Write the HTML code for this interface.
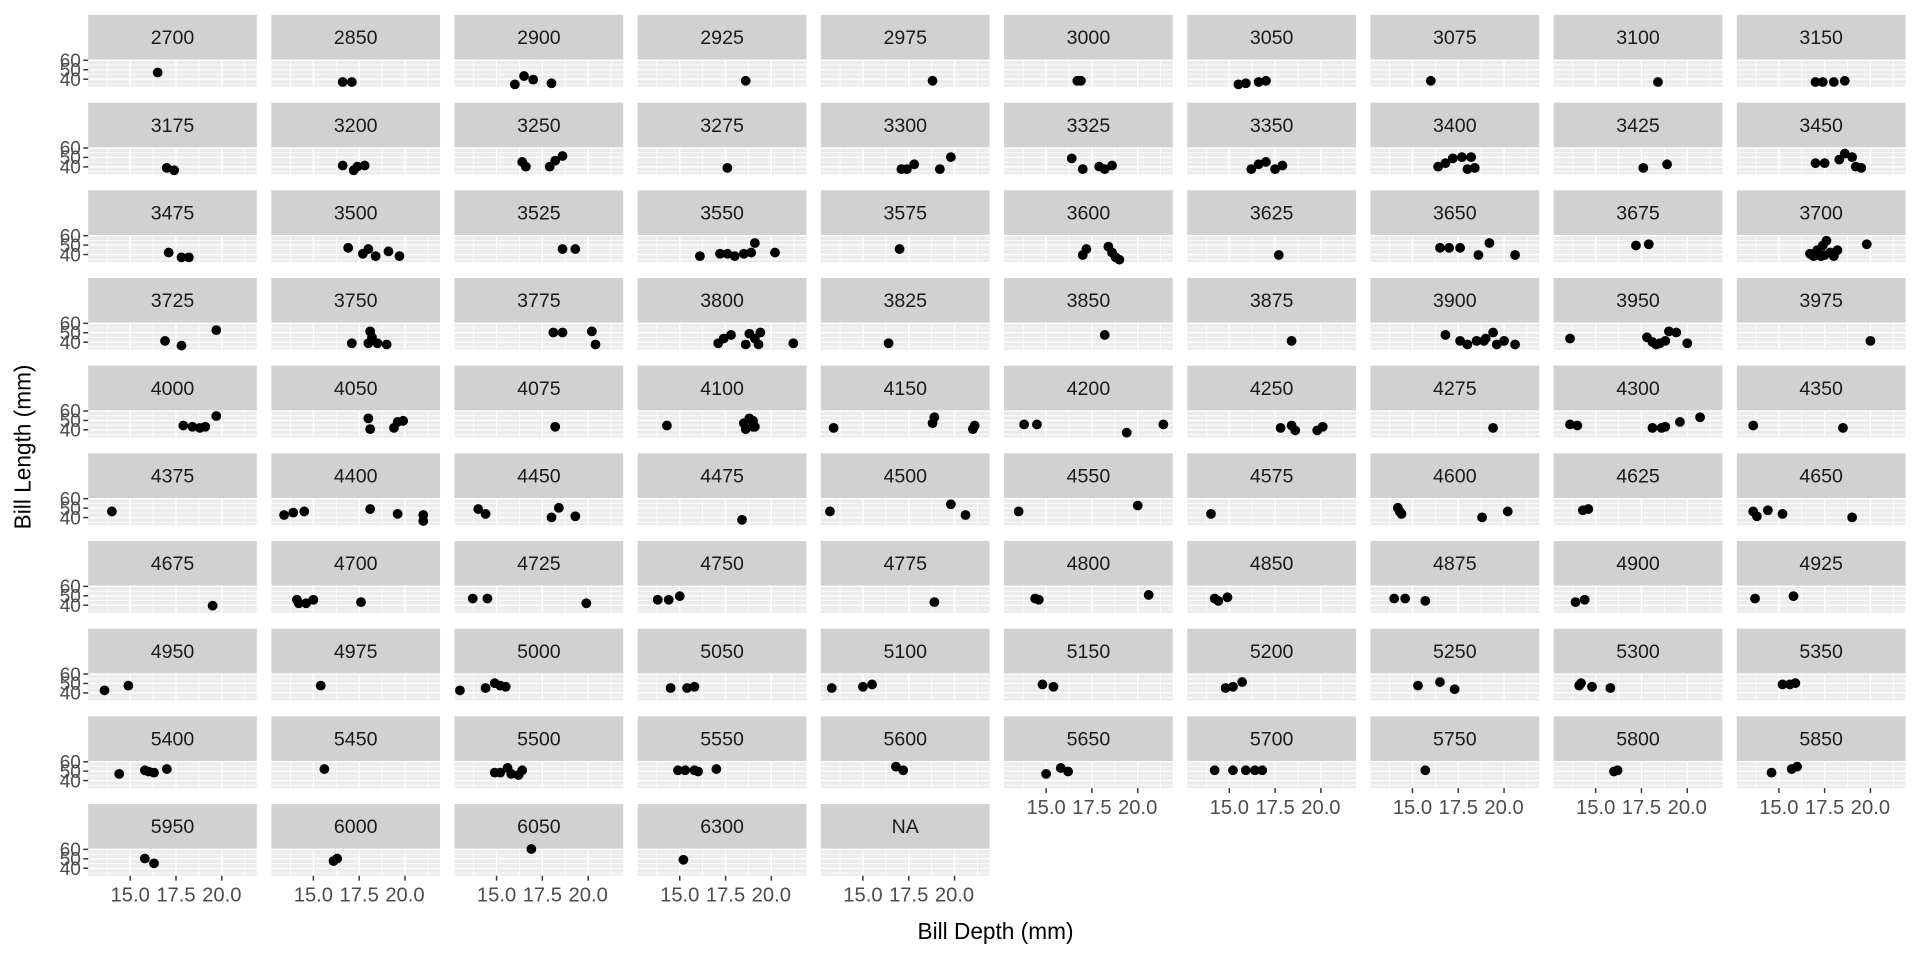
<!DOCTYPE html>
<html><head><meta charset="utf-8"><style>
html,body{margin:0;padding:0;background:#fff;}
svg{display:block;font-family:"Liberation Sans",Arial,sans-serif;}
</style></head><body>
<svg id="chart" width="1920" height="960" viewBox="0 0 1568 784" xmlns="http://www.w3.org/2000/svg">
<text x="0" y="0" transform="translate(25,365) rotate(-90)" text-anchor="middle" font-size="18.5" fill="#000">Bill Length (mm)</text>
<text x="813" y="767" text-anchor="middle" font-size="18.5" fill="#000">Bill Depth (mm)</text>
</svg>
<script>
const facetLabels = ["2700","2850","2900","2925","2975","3000","3050","3075","3100","3150","3175","3200","3250","3275","3300","3325","3350","3400","3425","3450","3475","3500","3525","3550","3575","3600","3625","3650","3675","3700","3725","3750","3775","3800","3825","3850","3875","3900","3950","3975","4000","4050","4075","4100","4150","4200","4250","4275","4300","4350","4375","4400","4450","4475","4500","4550","4575","4600","4625","4650","4675","4700","4725","4750","4775","4800","4850","4875","4900","4925","4950","4975","5000","5050","5100","5150","5200","5250","5300","5350","5400","5450","5500","5550","5600","5650","5700","5750","5800","5850","5950","6000","6050","6300","NA"];
const billDepth = [
[16.5],[16.6,17.1],[16.0,16.5,17.0,18.0],[18.6],[18.8],[16.7,16.9],[15.5,15.9,16.6,17.0],[16.0],[18.4],[17.0,17.4,18.0,18.6],
[17.0,17.4],[16.6,17.2,17.4,17.8],[16.4,16.6,17.9,18.2,18.6],[17.6],[17.1,17.4,17.8,19.2,19.8],[16.4,17.0,17.9,18.2,18.6],[16.2,16.6,17.0,17.5,17.9],[16.4,16.8,17.2,17.7,18.0,18.2,18.4],[17.6,18.9],[17.0,17.5,18.3,18.6,19.0,19.2,19.5],
[17.1,17.8,18.2],[16.9,17.7,18.0,19.1,19.7,18.4],[18.6,19.3],[16.1,17.2,17.6,18.0,18.5,18.9,19.1,20.2],[17.0],[17.0,17.2,18.4,18.6,18.8,19.0],[17.7],[16.5,17.0,17.6,18.6,19.2,20.6],[17.2,17.9],[16.7,16.9,17.1,17.3,17.5,17.6,17.8,18.0,18.2,17.4,19.8],
[16.9,17.8,19.7],[17.1,18.0,18.1,18.5,19.0,18.2],[18.1,18.6,20.2,20.4],[17.1,17.4,17.8,18.6,18.8,19.1,19.3,19.4,21.2],[16.4],[18.2],[18.4],[16.8,17.6,18.0,18.5,18.9,19.4,19.6,20.0,20.6,19.0],[13.6,17.8,18.1,18.5,19.0,19.4,20.0,18.3,18.8],[20.0],
[17.9,18.4,18.8,19.1,19.7],[18.0,18.1,19.4,19.6,19.9],[18.2],[14.3,18.5,18.8,19.0,19.1,18.6,19.0],[13.4,18.8,18.9,21.0,21.1],[13.8,14.5,19.4,21.4],[17.8,18.4,18.6,19.8,20.1],[19.4],[13.6,14.0,18.1,18.6,18.8,19.6,20.7],[13.6,18.5],
[14.0],[13.4,13.9,14.5,18.1,19.6,21.0,21.0],[14.0,14.4,18.0,18.4,19.3],[18.4],[13.2,19.8,20.6],[13.5,20.0],[14.0],[14.2,14.3,14.4,18.8,20.2],[14.3,14.6],[13.6,13.8,14.4,15.2,19.0],
[19.5],[14.1,14.2,14.6,15.0,17.6],[13.7,14.5,19.9],[13.8,14.4,15.0],[18.9],[14.4,14.6,20.6],[14.2,14.4,14.9],[14.0,14.6,15.7],[13.9,14.4],[13.7,15.8],
[13.6,14.9],[15.4],[13.0,14.4,14.9,15.2,15.5],[14.5,15.4,15.8],[13.3,15.0,15.5],[14.8,15.4],[14.8,15.2,15.7],[15.3,16.5,17.3],[14.1,14.2,14.8,15.8],[15.2,15.6,15.9],
[14.4,15.8,16.0,16.3,17.0],[15.6],[14.9,15.2,15.6,15.8,16.2,16.4],[14.9,15.3,15.8,16.0,17.0],[16.8,17.2],[15.0,15.8,16.2],[14.2,15.2,15.9,16.4,16.8],[15.7],[16.0,16.2],[14.6,15.7,16.0],
[15.8,16.3],[16.1,16.3],[16.9],[15.2],[]
];
const billLength = [
[47.1],[37.0,37.0],[34.5,43.3,39.5,35.7],[38.3],[38.3],[38.3,38.3],[34.5,35.7,37.0,38.3],[38.3],[37.0],[37.0,37.0,37.0,38.3],
[38.9,36.4],[41.4,36.4,40.2,41.4],[45.2,40.2,40.2,46.5,51.5],[38.9],[37.6,37.6,42.7,37.6,50.3],[49.0,37.6,40.2,37.6,41.4],[37.6,42.7,45.2,37.6,41.4],[40.2,43.9,49.0,50.3,37.6,50.3,38.9],[38.9,42.7],[43.9,43.9,47.7,54.1,50.3,40.2,38.9],
[42.1,37.0,37.0],[47.1,40.8,45.8,43.3,38.3,38.3],[45.8,45.8],[38.3,40.8,40.8,38.3,40.8,42.1,52.2,42.1],[45.8],[39.5,45.8,48.4,42.1,37.0,34.5],[39.5],[47.1,47.1,47.1,39.5,52.2,39.5],[49.6,50.9],[40.8,38.3,44.6,38.3,39.5,54.7,42.1,38.3,44.6,49.6,50.9],
[41.4,36.4,52.8],[38.9,38.9,51.5,38.9,37.6,45.2],[50.3,50.3,51.5,37.6],[38.9,43.9,47.7,37.6,49.0,43.9,37.6,50.3,38.9],[38.9],[47.7],[41.4],[47.7,41.4,37.6,41.4,41.4,50.3,37.6,41.4,37.6,43.9],[43.9,45.2,40.2,38.9,51.5,50.3,38.9,37.6,41.4],[41.4],
[44.6,43.3,42.1,43.3,54.7],[52.2,40.8,42.1,48.4,49.6],[43.3],[44.6,47.1,52.2,43.3,43.3,40.8,49.6],[42.1,47.1,53.4,40.8,44.6],[45.8,45.8,37.0,45.8],[42.1,44.6,39.5,39.5,43.3],[42.1],[45.8,44.6,42.1,42.1,43.3,48.4,53.4],[44.6,42.1],
[46.5],[42.7,45.2,46.5,49.0,43.9,42.7,36.4],[49.0,43.9,40.2,50.3,41.4],[37.6],[46.5,54.1,42.7],[46.5,52.8],[43.9],[50.3,46.5,43.9,40.2,46.5],[47.7,49.0],[46.5,41.4,47.7,43.9,40.2],
[39.5],[45.8,42.1,42.1,45.8,43.3],[47.1,47.1,42.1],[45.8,45.8,49.6],[43.3],[47.1,45.8,50.9],[47.1,44.6,48.4],[47.1,47.1,44.6],[43.3,45.8],[47.1,49.6],
[42.7,47.7],[47.7],[42.7,45.2,50.3,47.7,46.5],[45.2,45.2,46.5],[45.2,46.5,49.0],[49.0,46.5],[45.2,46.5,51.5],[47.7,51.5,43.9],[47.7,50.3,46.5,45.2],[49.0,49.0,50.3],
[47.1,50.9,49.6,48.4,52.2],[52.2],[48.4,48.4,53.4,47.1,45.8,50.9],[50.9,50.9,50.9,49.6,52.2],[54.7,50.9],[47.1,53.4,49.6],[50.9,50.9,50.9,50.9,50.9],[50.9],[49.6,50.9],[48.4,52.2,54.7],
[50.3,45.2],[47.7,50.3],[60.4],[49.0],[]
];
const xTickValues = [15.0, 17.5, 20.0];
const xTickLabels = ["15.0", "17.5", "20.0"];
const yTickValues = [40, 50, 60];
const yTickLabels = ["40", "50", "60"];
const xMinor = [13.75, 16.25, 18.75, 21.25];
const yMinor = [35, 45, 55];

const NS = "http://www.w3.org/2000/svg";
const svg = document.getElementById("chart");
const NCOL = 10, COL0 = 72, COLSTEP = 149.6, PW = 137.8;
const ROW0 = 12.2, ROWSTEP = 71.6, SH = 36.6, PH = 22;
const X_MIN = 13.1, X_PX = 14.96, X_OFF = 5.9;
const Y_TOP = 60.6, Y_PX = 0.77;
function xScale(d, x0) { return x0 + X_OFF + (d - X_MIN) * X_PX; }
function yScale(l, py) { return py + (Y_TOP - l) * Y_PX; }
function mk(tag, attrs) {
  const e = document.createElementNS(NS, tag);
  for (const k in attrs) e.setAttribute(k, attrs[k]);
  return e;
}
const nPanels = facetLabels.length;
const lastRow = Math.floor((nPanels - 1) / NCOL);
for (let i = 0; i < nPanels; i++) {
  const c = i % NCOL, r = Math.floor(i / NCOL);
  const x0 = COL0 + c * COLSTEP, st = ROW0 + r * ROWSTEP, py = st + SH;
  const g = mk("g", {});
  
  
  svg.appendChild(g);
  const strip = mk("rect", {x: x0, y: st, width: PW, height: SH, fill: "#d1d1d1"});
  
  
  g.appendChild(strip);
  const st_t = mk("text", {x: x0 + PW / 2, y: st + SH / 2 + 5.5, "text-anchor": "middle", "font-size": "16", fill: "#1a1a1a"});
  st_t.textContent = facetLabels[i];
  
  
  g.appendChild(st_t);
  const bg = mk("rect", {x: x0, y: py, width: PW, height: PH, fill: "#ebebeb"});
  
  
  g.appendChild(bg);
  yMinor.forEach(v => { const y = yScale(v, py); const l = mk("line", {x1: x0, x2: x0 + PW, y1: y, y2: y, stroke: "#fff", "stroke-width": 0.6});   g.appendChild(l); });
  xMinor.forEach(v => { const x = xScale(v, x0); const l = mk("line", {x1: x, x2: x, y1: py, y2: py + PH, stroke: "#fff", "stroke-width": 0.6});   g.appendChild(l); });
  yTickValues.forEach(v => { const y = yScale(v, py); const l = mk("line", {x1: x0, x2: x0 + PW, y1: y, y2: y, stroke: "#fff", "stroke-width": 1.1});   g.appendChild(l); });
  xTickValues.forEach(v => { const x = xScale(v, x0); const l = mk("line", {x1: x, x2: x, y1: py, y2: py + PH, stroke: "#fff", "stroke-width": 1.1});   g.appendChild(l); });
  if (c === 0) {
    yTickValues.forEach((v, k) => {
      const y = yScale(v, py);
      const t = mk("line", {x1: x0 - 4, x2: x0, y1: y, y2: y, stroke: "#333", "stroke-width": 1.2});
      
      
      g.appendChild(t);
      const lb = mk("text", {x: x0 - 6, y: y + 5.5, "text-anchor": "end", "font-size": "15.5", fill: "#4d4d4d"});
      lb.textContent = yTickLabels[k];
      
      
      g.appendChild(lb);
    });
  }
  const colLast = (r === lastRow) || (r === lastRow - 1 && c > (nPanels - 1) % NCOL);
  if (colLast) {
    xTickValues.forEach((v, k) => {
      const x = xScale(v, x0);
      const t = mk("line", {x1: x, x2: x, y1: py + PH, y2: py + PH + 4, stroke: "#333", "stroke-width": 1.2});
      
      
      g.appendChild(t);
      const lb = mk("text", {x: x, y: py + PH + 21, "text-anchor": "middle", "font-size": "16.5", fill: "#4d4d4d"});
      lb.textContent = xTickLabels[k];
      
      
      g.appendChild(lb);
    });
  }
  const ds = billDepth[i], ls = billLength[i];
  for (let j = 0; j < ds.length; j++) {
    const p = mk("circle", {cx: xScale(ds[j], x0), cy: yScale(ls[j], py), r: 4, fill: "#000"});
    
    
    g.appendChild(p);
  }
}
</script>
</body></html>
